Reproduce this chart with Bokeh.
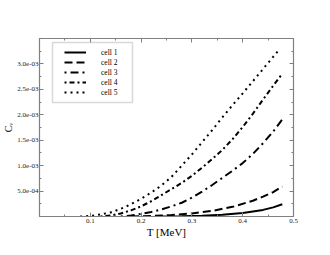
from bokeh.plotting import figure
from bokeh.models import (Range1d, FixedTicker, LinearAxis, Legend, LegendItem,
                          BoxAnnotation, CustomLabelingPolicy)
from bokeh.embed import file_html
from bokeh.resources import INLINE

# ---- data (C_v in units of 1e-3) ----
T1 = [0.24, 0.28, 0.32, 0.36, 0.40, 0.44, 0.46, 0.478]
C1 = [0.0, 0.005, 0.015, 0.035, 0.07, 0.13, 0.18, 0.24]

T2 = [0.18, 0.22, 0.26, 0.30, 0.34, 0.38, 0.42, 0.44, 0.46, 0.478]
C2 = [0.0, 0.01, 0.03, 0.06, 0.11, 0.19, 0.31, 0.39, 0.48, 0.59]

T3 = [0.16, 0.18, 0.20, 0.22, 0.24, 0.26, 0.28, 0.30, 0.32, 0.34, 0.36, 0.38,
      0.40, 0.42, 0.44, 0.46, 0.478]
C3 = [0.0, 0.02, 0.05, 0.09, 0.14, 0.20, 0.27, 0.37, 0.49, 0.62, 0.76, 0.90,
      1.05, 1.23, 1.44, 1.67, 1.91]

T4 = [0.12, 0.14, 0.16, 0.18, 0.20, 0.22, 0.24, 0.26, 0.28, 0.30, 0.32, 0.34,
      0.36, 0.38, 0.40, 0.42, 0.44, 0.46, 0.478]
C4 = [0.0, 0.02, 0.06, 0.12, 0.20, 0.30, 0.42, 0.54, 0.66, 0.80, 0.96, 1.13,
      1.31, 1.52, 1.76, 2.02, 2.30, 2.57, 2.81]

T5 = [0.08, 0.10, 0.12, 0.14, 0.16, 0.18, 0.20, 0.22, 0.24, 0.26, 0.28, 0.30,
      0.32, 0.34, 0.36, 0.38, 0.40, 0.42, 0.44, 0.46, 0.47]
C5 = [0.0, 0.01, 0.04, 0.08, 0.15, 0.24, 0.35, 0.47, 0.61, 0.78, 1.00, 1.22,
      1.46, 1.70, 1.95, 2.19, 2.42, 2.66, 2.90, 3.14, 3.26]

series_names = ["cell 1", "cell 2", "cell 3", "cell 4", "cell 5"]

x_ticks = [0.1, 0.2, 0.3, 0.4, 0.5]
x_tick_labels = ["0.1", "0.2", "0.3", "0.4", "0.5"]
y_ticks = [0.0005, 0.001, 0.0015, 0.002, 0.0025, 0.003]
y_tick_labels = ["5.0e-04", "1.0e-03", "1.5e-03", "2.0e-03", "2.5e-03", "3.0e-03"]
x_minor = [0.05, 0.15, 0.25, 0.35, 0.45]
y_minor = [0.00025, 0.00075, 0.00125, 0.00175, 0.00225, 0.00275, 0.00325]

SERIF = "Liberation Serif"
FRAME = "#808080"

p = figure(width=322, height=247, output_backend="svg", toolbar_location=None,
           x_range=Range1d(0, 0.5), y_range=Range1d(0, 0.0035),
           min_border_left=38, min_border_right=29, min_border_top=38,
           min_border_bottom=31, x_axis_location=None, y_axis_location=None)
p.grid.visible = False
p.outline_line_color = FRAME
p.outline_line_width = 1.2
p.background_fill_color = "white"
p.border_fill_color = "white"

no_labels = CustomLabelingPolicy(
    code="for (const i of Array.from(indices)) { indices.unset(i) }\nreturn indices")


def style_axis(ax, labels=True):
    ax.axis_line_color = FRAME
    ax.major_tick_line_color = FRAME
    ax.minor_tick_line_color = FRAME
    ax.major_tick_in = 4
    ax.major_tick_out = 0
    ax.minor_tick_in = 2
    ax.minor_tick_out = 0
    ax.major_label_text_font = SERIF
    ax.major_label_text_font_size = "7px"
    ax.major_label_text_color = "#222222"
    ax.major_label_standoff = 2 if labels else 0
    ax.axis_label_text_font = SERIF
    ax.axis_label_text_font_style = "normal"
    ax.axis_label_text_color = "black"
    if not labels:
        ax.major_label_policy = no_labels


xt = FixedTicker(ticks=x_ticks, minor_ticks=x_minor)
yt = FixedTicker(ticks=y_ticks, minor_ticks=y_minor)

xb = LinearAxis(ticker=xt, axis_label="T [MeV]")
style_axis(xb)
xb.major_label_overrides = dict(zip(x_ticks, x_tick_labels))
xb.axis_label_text_font_size = "11px"
xb.axis_label_standoff = 0
p.add_layout(xb, "below")

xa = LinearAxis(ticker=xt)
style_axis(xa, labels=False)
p.add_layout(xa, "above")

yl = LinearAxis(ticker=yt, axis_label="C\u1d65")
style_axis(yl)
yl.major_label_overrides = dict(zip(y_ticks, y_tick_labels))
yl.major_label_standoff = 1
yl.axis_label_text_font_size = "10px"
yl.axis_label_standoff = 0
p.add_layout(yl, "left")

yr = LinearAxis(ticker=yt)
style_axis(yr, labels=False)
p.add_layout(yr, "right")

scale = 1e-3
styles = [
    dict(line_dash="solid"),
    dict(line_dash="8 4"),
    dict(line_dash="2 4 8 4"),
    dict(line_dash="2 3 5 3"),
    dict(line_dash="2 4"),
]
Ts = [T1, T2, T3, T4, T5]
Cs = [C1, C2, C3, C4, C5]
items = []
for name, T, C, st in zip(series_names, Ts, Cs, styles):
    r = p.line(list(T), [c * scale for c in C], line_color="black",
               line_width=2, **st)
    items.append(LegendItem(label=name, renderers=[r]))

legend = Legend(items=items, location=(20, 114), padding=5, spacing=0,
                glyph_width=22, glyph_height=10, label_height=10,
                label_standoff=15, label_text_font=SERIF,
                label_text_font_size="7.5px", label_text_color="black",
                border_line_alpha=0, background_fill_alpha=0, margin=0)
p.add_layout(legend, "center")

box = BoxAnnotation(left=13, right=93, top=174, bottom=114,
                    left_units="screen", right_units="screen",
                    top_units="screen", bottom_units="screen",
                    fill_color="white", fill_alpha=1.0,
                    line_color=FRAME, line_width=1.5, level="underlay")
p.add_layout(box)

open("out.html", "w").write(file_html(p, INLINE))
